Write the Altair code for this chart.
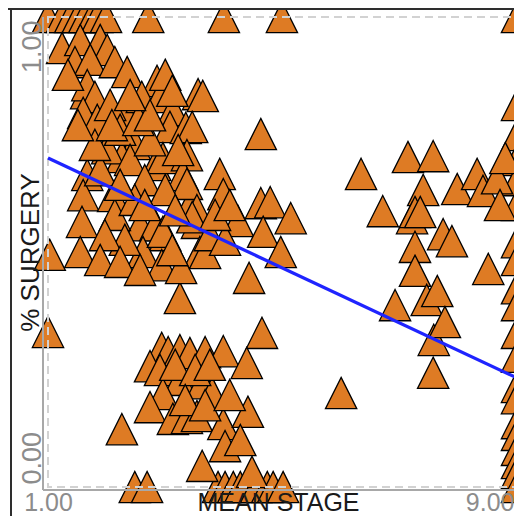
import altair as alt
import pandas as pd

# ---------------- data ----------------
x_title = "MEAN STAGE"
y_title = "% SURGERY"
x_ticks = [1, 9]
y_ticks = [0, 1]

# points sitting on the 100 % line
top_x = [1.00, 1.24, 1.38, 1.51, 1.62, 1.75, 1.84, 1.99, 2.71, 4.00, 4.99, 9.00]
# points sitting on the 0 % line
bottom_x = [2.48, 2.69, 3.90, 4.02, 4.16, 4.28, 4.55, 4.74, 4.84, 5.01]
# points stacked on the right edge (mean stage 9)
edge_y = [0.813, 0.749, 0.696, 0.653, 0.60, 0.521, 0.483, 0.423, 0.387, 0.328,
          0.277, 0.213, 0.189, 0.136, 0.111, 0.079, 0.051, 0.03, 0.0]

# upper-left cluster
ul_x = [1.24, 1.55, 1.89, 2.01, 1.46, 1.72, 2.14, 2.35, 2.86, 3.56, 1.65, 1.67, 1.80, 1.60,
        2.31, 2.60, 2.91, 3.13, 1.84, 3.00, 3.12, 3.64, 4.63, 3.08, 3.35, 3.46, 2.48, 2.26,
        2.01, 2.83, 2.96, 3.37, 1.67, 1.60, 1.58, 1.55, 1.03, 2.11, 2.57, 2.83, 3.00, 2.62,
        2.94, 3.30, 3.42, 3.54, 3.59, 3.93, 3.37, 3.99, 3.54, 3.46, 4.24, 4.63, 4.79, 5.14,
        4.67, 4.97, 4.43, 3.25, 3.27, 3.68, 2.96, 3.12,
        2.06, 2.23, 2.40, 2.65, 1.89, 2.14, 2.31, 2.48, 2.74, 3.00, 3.17, 1.97, 2.65, 2.23,
        1.80, 2.09, 2.54, 2.74, 3.22, 2.40, 1.34, 1.51, 1.89, 2.23, 2.57, 3.76, 4.02, 3.85,
        4.10]
ul_y = [0.934, 0.951, 0.951, 0.930, 0.904, 0.909, 0.904, 0.883, 0.864, 0.836, 0.838, 0.855,
        0.830, 0.796, 0.798, 0.830, 0.830, 0.802, 0.781, 0.877, 0.843, 0.832, 0.751, 0.766,
        0.764, 0.766, 0.730, 0.702, 0.721, 0.685, 0.700, 0.706, 0.664, 0.621, 0.564, 0.500,
        0.494, 0.619, 0.557, 0.557, 0.536, 0.500, 0.472, 0.664, 0.600, 0.562, 0.500, 0.666,
        0.645, 0.623, 0.589, 0.574, 0.566, 0.604, 0.606, 0.572, 0.543, 0.500, 0.445, 0.402,
        0.466, 0.498, 0.543, 0.504,
        0.813, 0.760, 0.696, 0.653, 0.674, 0.579, 0.526, 0.611, 0.738, 0.632, 0.589, 0.536,
        0.600, 0.643, 0.728, 0.770, 0.781, 0.791, 0.717, 0.834, 0.877, 0.770, 0.483, 0.479,
        0.462, 0.536, 0.526, 0.579, 0.600]

# lower-left cluster
ll_x = [1.00, 4.65, 2.94, 3.05, 3.25, 3.42, 3.68, 3.99, 4.39, 2.74, 2.91, 3.25, 3.63, 3.80,
        2.96, 2.74, 3.13, 3.37, 3.54, 3.99, 4.41, 2.26, 4.02, 3.63, 4.48, 3.17, 3.51, 3.76,
        3.34, 3.68, 4.10, 4.28]
ll_y = [0.330, 0.328, 0.296, 0.287, 0.291, 0.285, 0.287, 0.289, 0.264, 0.257, 0.249, 0.228,
        0.221, 0.200, 0.198, 0.170, 0.145, 0.147, 0.151, 0.134, 0.160, 0.123, 0.087, 0.045,
        0.032, 0.260, 0.249, 0.260, 0.185, 0.174, 0.196, 0.100]

# right cluster
r_x = [6.34, 7.14, 7.57, 7.40, 6.71, 7.21, 7.26, 7.35, 7.26, 7.26, 7.74, 7.89, 7.98, 8.32,
       8.42, 8.66, 8.71, 8.80, 8.51, 6.92, 7.46, 7.64, 7.58, 7.77, 7.57, 6.00]
r_y = [0.666, 0.702, 0.704, 0.632, 0.587, 0.572, 0.585, 0.585, 0.511, 0.460, 0.538, 0.523,
       0.634, 0.666, 0.630, 0.657, 0.600, 0.700, 0.464, 0.387, 0.398, 0.417, 0.313, 0.351,
       0.243, 0.200]

# fitted line end points
reg_x = [1.0, 9.0]
reg_y = [0.700, 0.232]

# ---------------- tables ----------------
xs = top_x + bottom_x + [9.0] * len(edge_y) + ul_x + ll_x + r_x
ys = [1.0] * len(top_x) + [0.0] * len(bottom_x) + edge_y + ul_y + ll_y + r_y
pts = pd.DataFrame({"stage": xs, "surgery": ys})
reg = pd.DataFrame({"stage": reg_x, "surgery": reg_y})
box = pd.DataFrame({"stage": [x_ticks[0]], "stage_end": [x_ticks[1]],
                    "surgery": [y_ticks[0]], "surgery_end": [y_ticks[1]]})

FONT = "Liberation Sans"
W, H = 471, 480

x_scale = alt.Scale(domain=[1, 9], range=[5, 474], nice=False, zero=False)
y_scale = alt.Scale(domain=[0, 1], range=[477, 7], nice=False, zero=False)

x_axis = alt.Axis(
    values=x_ticks, format=".2f", title=x_title, domain=False, ticks=False, tickSize=0,
    grid=False, labelFont=FONT, labelFontSize=25, labelColor="#8c8c8c",
    labelBaseline="alphabetic", labelPadding=20, labelFlush=False, labelOverlap=False,
    labelAlign={"condition": {"test": "datum.value == 9", "value": "right"}, "value": "center"},
    labelOffset={"condition": {"test": "datum.value == 9", "value": -3}, "value": 0},
    titleFont=FONT, titleFontSize=25, titleFontWeight="normal", titleColor="#1a1a1a",
    titleX=235, titleY=20, titleBaseline="alphabetic", titleAlign="center", zindex=1,
)
y_axis = alt.Axis(
    values=y_ticks, format=".2f", title=y_title, domain=False, ticks=False, tickSize=0,
    grid=False, labelFont=FONT, labelFontSize=27, labelColor="#8c8c8c",
    labelAngle=270, labelBaseline="alphabetic", labelPadding=3, labelFlush=False,
    labelOverlap=False,
    labelAlign={"condition": {"test": "datum.value == 1", "value": "right"}, "value": "left"},
    labelOffset={"condition": {"test": "datum.value == 1", "value": 3}, "value": -3},
    titleFont=FONT, titleFontSize=26, titleFontWeight="normal", titleColor="#1a1a1a",
    titleAngle=270, titleX=-5, titleY=242, titleBaseline="alphabetic", titleAlign="center",
    zindex=1,
)

X = alt.X("stage:Q", scale=x_scale, axis=x_axis)
Y = alt.Y("surgery:Q", scale=y_scale, axis=y_axis)

points = alt.Chart(pts).mark_point(
    shape="M0,-1L1,1L-1,1Z", size=980, filled=True, fill="#DE7B24", fillOpacity=1,
    stroke="#000000", strokeWidth=1.3, strokeOpacity=1, opacity=1,
).encode(x=X, y=Y)

frame = alt.Chart(box).mark_rect(
    fillOpacity=0, stroke="#d2d2d2", strokeWidth=2, strokeDash=[8, 5],
).encode(x=X, x2="stage_end:Q", y=Y, y2="surgery_end:Q")

line = alt.Chart(reg).mark_line(color="#1f24ff", strokeWidth=3.2).encode(x=X, y=Y)

left_axis_line = alt.Chart(reg).mark_rule(color="#a8a8a8", strokeWidth=2).encode(
    x=alt.value(0), y=alt.value(7), y2=alt.value(H)
)
bottom_axis_line = alt.Chart(reg).mark_rule(color="#a8a8a8", strokeWidth=2).encode(
    x=alt.value(0), x2=alt.value(W), y=alt.value(H)
)
top_border = alt.Chart(reg).mark_rule(color="#2e2e2e", strokeWidth=2).encode(
    x=alt.value(-35), x2=alt.value(W), y=alt.value(-1)
)
left_border = alt.Chart(reg).mark_rule(color="#2e2e2e", strokeWidth=2).encode(
    x=alt.value(-32), y=alt.value(-2), y2=alt.value(H + 28)
)

chart = alt.layer(
    points, frame, line, left_axis_line, bottom_axis_line, top_border, left_border
).properties(
    width=W, height=H,
    padding={"left": 35, "top": 2, "right": 0, "bottom": 26},
    autosize=alt.AutoSizeParams(type="none"),
    background="white",
).configure_view(strokeWidth=0)

chart.save("out.html", embed_options={"renderer": "svg", "actions": False})
